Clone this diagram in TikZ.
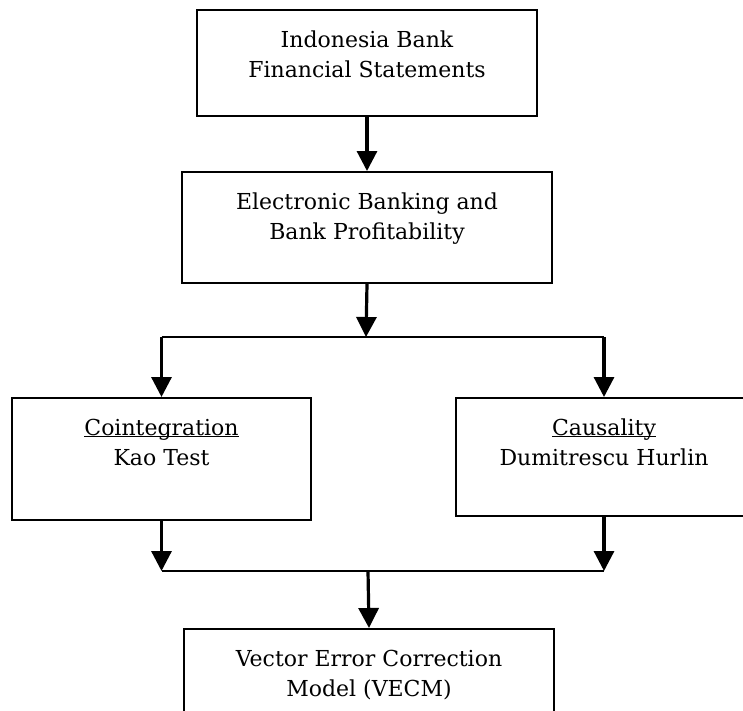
\documentclass[tikz,border=0pt]{standalone}
\usepackage{fontspec}
\setmainfont{DejaVu Serif}
\usetikzlibrary{arrows.meta}
\newcommand\bxtext[3]{\parbox[t][#2][t]{#1}{\centering\fontsize{22}{30}\selectfont\rule{0pt}{37pt}#3}}
\begin{document}
\begin{tikzpicture}[x=1pt,y=-1pt,
  box/.style={draw, line width=2pt, rectangle, inner sep=0pt, anchor=north west},
  arr/.style={line width=3.2pt, -{Triangle[width=20pt,length=20pt]}},
  ln/.style={line width=2pt},
]
\useasboundingbox (0,0) rectangle (743,710);
\clip (0,0) rectangle (743,710);
\fill[white] (0,0) rectangle (743,710);
\node[box] (b1) at (196,9) {\bxtext{340pt}{106pt}{Indonesia Bank\\Financial Statements}};
\node[box] (b2) at (181,171) {\bxtext{370pt}{111pt}{Electronic Banking and\\Bank Profitability}};
\node[box] (b3) at (11,397) {\bxtext{299pt}{122pt}{\underline{\smash{Cointegration}}\\Kao Test}};
\node[box] (b4) at (455,397) {\bxtext{296pt}{118pt}{\underline{\smash{Causality}}\\Dumitrescu Hurlin}};
\node[box] (b5) at (183,628) {\bxtext{370pt}{120pt}{Vector Error Correction\\Model (VECM)}};
\coordinate (s1) at (366,337);
\coordinate (s2) at (368,571);
\draw[arr] (b1.south) -- (b2.north);
\draw[arr] (b2.south) -- (s1);
\draw[ln] (b3.north |- s1) -- (b4.north |- s1);
\draw[arr] (b3.north |- s1) -- (b3.north);
\draw[arr] (b4.north |- s1) -- (b4.north);
\draw[arr] (b3.south) -- (b3.south |- s2);
\draw[arr] (b4.south) -- (b4.south |- s2);
\draw[ln] (b3.south |- s2) -- (b4.south |- s2);
\draw[arr] (s2) -- (b5.north);
\end{tikzpicture}
\end{document}
